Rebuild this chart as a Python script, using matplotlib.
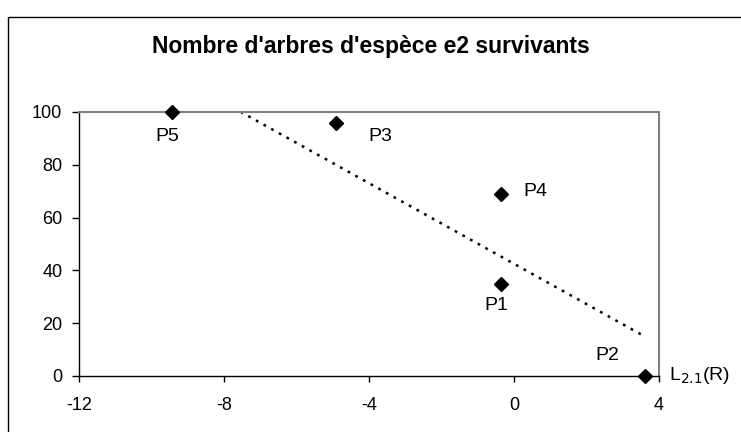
import numpy as np
import matplotlib
matplotlib.use("Agg")
import matplotlib.pyplot as plt
from matplotlib.patches import Rectangle

plt.rcParams['font.family'] = ['Liberation Sans', 'DejaVu Sans']

# Data
labels = ["P1", "P2", "P3", "P4", "P5"]
x_vals = [-0.36, 3.61, -4.91, -0.36, -9.44]
y_vals = [35.0, 0.0, 96.0, 69.0, 100.0]
x_ticks = [-12, -8, -4, 0, 4]
y_ticks = [0, 20, 40, 60, 80, 100]
title = "Nombre d'arbres d'espèce e2 survivants"
x_label = r"L$_{2.1}$(R)"

W, H = 741, 432
fig = plt.figure(figsize=(W / 100, H / 100), dpi=100)

# Outer chart border (left/top visible, rest beyond image)
fig.add_artist(Rectangle((8 / W, -0.2), 2.0, (H - 17) / H + 0.2,
                         transform=fig.transFigure, fill=False,
                         lw=1.0, ec='black'))

L, R, T, B = 79, 659, 112, 376
ax = fig.add_axes([L / W, (H - B) / H, (R - L) / W, (B - T) / H])

ax.set_xlim(-12, 4)
ax.set_ylim(0, 100)
ax.set_xticks(x_ticks)
ax.set_yticks(y_ticks)
ax.set_xticklabels([str(v) for v in x_ticks])
ax.set_yticklabels([str(v) for v in y_ticks])

for s in ['top', 'right']:
    ax.spines[s].set_color('#808080')
    ax.spines[s].set_linewidth(1.5)
for s in ['left', 'bottom']:
    ax.spines[s].set_color('black')
    ax.spines[s].set_linewidth(1.0)

ax.tick_params(axis='y', direction='out', length=5, width=1, pad=7, labelsize=13)
ax.tick_params(axis='x', direction='out', length=4, width=1, pad=11, labelsize=13)

# Trend line (linear regression)
slope, intercept = np.polyfit(x_vals, y_vals, 1)
xs = np.array([min(x_vals), max(x_vals)])
ax.plot(xs, slope * xs + intercept, color='black', lw=1.8,
        linestyle=(0, (1.1, 2.4)), zorder=2)

# Points
ax.plot(x_vals, y_vals, linestyle='none', marker='D', markersize=7,
        color='black', zorder=3, clip_on=False)

offsets = {"P1": (-5, -22), "P2": (-38, 20), "P3": (44, -14),
           "P4": (34, 2), "P5": (-4, -25)}
for lab, xv, yv in zip(labels, x_vals, y_vals):
    ax.annotate(lab, (xv, yv), xytext=offsets[lab], textcoords='offset pixels',
                ha='center', va='center', fontsize=14)

ax.annotate(x_label, (1, 0), xycoords='axes fraction', xytext=(10, 0),
            textcoords='offset pixels', ha='left', va='center', fontsize=14)

fig.text(0.5, (H - 47) / H, title, ha='center', va='center',
         fontsize=16.5, fontweight='bold')

fig.savefig("out.png", dpi=100)
